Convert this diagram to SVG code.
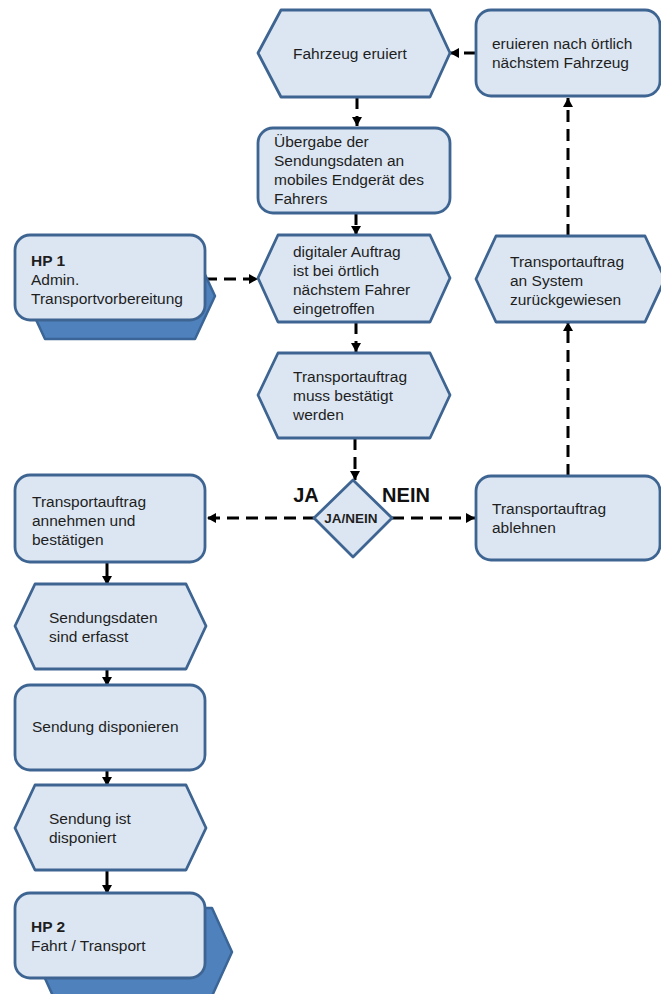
<svg xmlns="http://www.w3.org/2000/svg" width="661" height="994" viewBox="0 0 661 994">
  <defs>
    <style>
      .node { fill: #dce6f2; stroke: #3e6592; stroke-width: 2.8; stroke-linejoin: round; }
      .shadow { fill: #4f81bd; stroke: #3a6596; stroke-width: 2.5; stroke-linejoin: round; }
      .txt { font-family: "Liberation Sans", Arial, sans-serif; font-size: 15.5px; fill: #1e1e1e; }
      .b { font-weight: bold; }
      .lbl { font-family: "Liberation Sans", Arial, sans-serif; font-size: 20px; font-weight: bold; fill: #111; }
      .dash { fill: none; stroke: #000; stroke-width: 3; stroke-dasharray: 12 7; marker-end: url(#arrow); }
      .solid { fill: none; stroke: #000; stroke-width: 3; marker-end: url(#arrow); }
    </style>
    <marker id="arrow" markerUnits="userSpaceOnUse" markerWidth="9" markerHeight="10" refX="9" refY="5" orient="auto">
      <path d="M0,0 L9,5 L0,10 z" fill="#000"/>
    </marker>
  </defs>

  <rect width="661" height="994" fill="#ffffff"/>

  <!-- connectors -->
  <g id="connectors">
    <path class="dash" d="M476,53 L450,53"/>
    <path class="dash" d="M357,97 L357,126"/>
    <path class="dash" d="M356,213 L356,235"/>
    <path class="dash" d="M205,279 L258,279"/>
    <path class="dash" d="M356,322 L356,352"/>
    <path class="dash" d="M355,438 L355,480"/>
    <path class="dash" d="M315,518 L207,518"/>
    <path class="dash" d="M392,518 L475,518"/>
    <path class="dash" d="M568,476 L568,322"/>
    <path class="dash" d="M568,236 L568,98"/>
    <path class="solid" d="M107,562 L107,585"/>
    <path class="solid" d="M107,669 L107,686"/>
    <path class="solid" d="M107,770 L107,786"/>
    <path class="solid" d="M107,870 L107,894"/>
  </g>

  <!-- event: Fahrzeug eruiert -->
  <g id="fahrzeug-eruiert">
    <polygon class="node" points="258,53 281,10 430,10 450,53 430,97 281,97"/>
    <text class="txt" x="293" y="59">Fahrzeug eruiert</text>
  </g>

  <!-- function: eruieren nach örtlich nächstem Fahrzeug -->
  <g id="eruieren">
    <rect class="node" x="476" y="10" width="184" height="86" rx="15"/>
    <text class="txt" x="492" y="49">eruieren nach örtlich</text>
    <text class="txt" x="492" y="68">nächstem Fahrzeug</text>
  </g>

  <!-- function: Übergabe der Sendungsdaten -->
  <g id="uebergabe">
    <rect class="node" x="258" y="128" width="192" height="85" rx="15"/>
    <text class="txt" x="274" y="147">Übergabe der</text>
    <text class="txt" x="274" y="166">Sendungsdaten an</text>
    <text class="txt" x="274" y="185">mobiles Endgerät des</text>
    <text class="txt" x="274" y="204">Fahrers</text>
  </g>

  <!-- process interface: HP 1 -->
  <g id="hp1">
    <polygon class="shadow" points="25,296 45,253 195,253 215,296 195,339 45,339"/>
    <rect class="node" x="15" y="235" width="190" height="85" rx="15"/>
    <text class="txt b" x="31" y="266">HP 1</text>
    <text class="txt" x="31" y="285">Admin.</text>
    <text class="txt" x="31" y="304">Transportvorbereitung</text>
  </g>

  <!-- event: digitaler Auftrag eingetroffen -->
  <g id="digitaler-auftrag">
    <polygon class="node" points="258,278 278,235 430,235 450,278 430,322 278,322"/>
    <text class="txt" x="293" y="257">digitaler Auftrag</text>
    <text class="txt" x="293" y="276">ist bei örtlich</text>
    <text class="txt" x="293" y="295">nächstem Fahrer</text>
    <text class="txt" x="293" y="314">eingetroffen</text>
  </g>

  <!-- event: Transportauftrag an System zurückgewiesen -->
  <g id="zurueckgewiesen">
    <polygon class="node" points="476,279 496,236 645,236 665,279 645,322 496,322"/>
    <text class="txt" x="510" y="267">Transportauftrag</text>
    <text class="txt" x="510" y="286">an System</text>
    <text class="txt" x="510" y="305">zurückgewiesen</text>
  </g>

  <!-- event: Transportauftrag muss bestätigt werden -->
  <g id="muss-bestaetigt">
    <polygon class="node" points="258,395 278,353 430,353 450,395 430,438 278,438"/>
    <text class="txt" x="293" y="382">Transportauftrag</text>
    <text class="txt" x="293" y="401">muss bestätigt</text>
    <text class="txt" x="293" y="420">werden</text>
  </g>

  <!-- decision -->
  <g id="entscheidung">
    <polygon class="node" points="353,480 392,518 353,557 314,518"/>
    <text class="txt b" x="351" y="523" text-anchor="middle" style="font-size:13.5px">JA/NEIN</text>
    <text class="lbl" x="306" y="502" text-anchor="middle">JA</text>
    <text class="lbl" x="406" y="502" text-anchor="middle">NEIN</text>
  </g>

  <!-- function: Transportauftrag ablehnen -->
  <g id="ablehnen">
    <rect class="node" x="476" y="476" width="184" height="84" rx="15"/>
    <text class="txt" x="492" y="514">Transportauftrag</text>
    <text class="txt" x="492" y="533">ablehnen</text>
  </g>

  <!-- function: Transportauftrag annehmen und bestätigen -->
  <g id="annehmen">
    <rect class="node" x="15" y="475" width="190" height="87" rx="15"/>
    <text class="txt" x="32" y="507">Transportauftrag</text>
    <text class="txt" x="32" y="526">annehmen  und</text>
    <text class="txt" x="32" y="545">bestätigen</text>
  </g>

  <!-- event: Sendungsdaten sind erfasst -->
  <g id="sendungsdaten-erfasst">
    <polygon class="node" points="15,626 35,584 186,584 206,626 186,669 35,669"/>
    <text class="txt" x="49" y="623">Sendungsdaten</text>
    <text class="txt" x="49" y="642">sind erfasst</text>
  </g>

  <!-- function: Sendung disponieren -->
  <g id="disponieren">
    <rect class="node" x="15" y="685" width="190" height="85" rx="15"/>
    <text class="txt" x="32" y="732">Sendung disponieren</text>
  </g>

  <!-- event: Sendung ist disponiert -->
  <g id="disponiert">
    <polygon class="node" points="15,828 35,785 186,785 206,828 186,870 35,870"/>
    <text class="txt" x="49" y="824">Sendung ist</text>
    <text class="txt" x="49" y="843">disponiert</text>
  </g>

  <!-- process interface: HP 2 -->
  <g id="hp2">
    <polygon class="shadow" points="33,952 53,908 212,908 232,952 212,996 53,996"/>
    <rect class="node" x="15" y="893" width="190" height="85" rx="15"/>
    <text class="txt b" x="31" y="932">HP 2</text>
    <text class="txt" x="31" y="951">Fahrt / Transport</text>
  </g>
</svg>
